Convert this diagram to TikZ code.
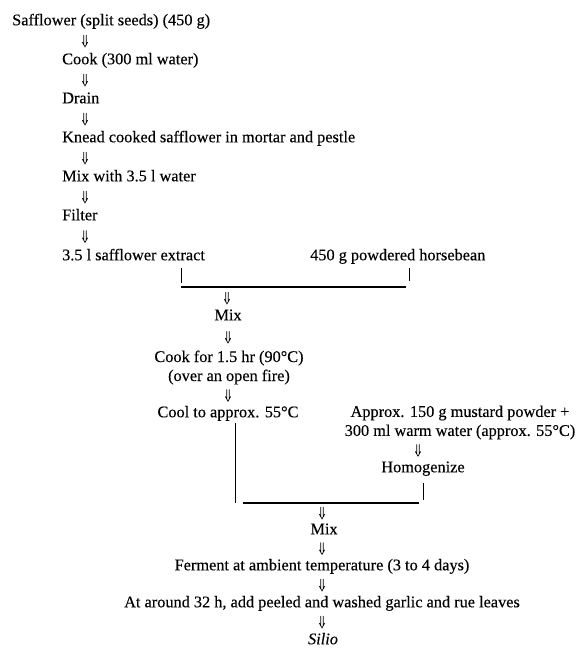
\documentclass[tikz,border=0pt]{standalone}
\usepackage{fontspec}
\setmainfont[FakeBold=0.25]{Liberation Serif}
\usetikzlibrary{calc}
\begin{document}
\begin{tikzpicture}[x=1pt,y=-1pt,
  lbl/.style={inner sep=0pt, font=\fontsize{16.3}{19}\selectfont, text height=11pt, text depth=3.5pt},
  lbltwo/.style={inner sep=0pt, font=\fontsize{16.3}{19}\selectfont, align=center},
  dar/.style={line width=0.7pt, line cap=round, line join=miter,
    to path={let \p1=($(\tikztostart)!.5!(\tikztotarget)$) in
      (\x1-1.2pt,\y1+5.8pt) -- (\x1-1.2pt,\y1-3.2pt)
      (\x1+1.2pt,\y1+5.8pt) -- (\x1+1.2pt,\y1-3.2pt)
      (\x1-2.6pt,\y1-1.3pt) -- (\x1,\y1-5.8pt) -- (\x1+2.6pt,\y1-1.3pt)}},
  thin rule/.style={line width=0.6pt},
  bar rule/.style={line width=1.2pt}]
\useasboundingbox (0,0) rectangle (580,656);
% left column
\node[lbl, anchor=mid west] (n1) at (12,23) {Safflower (split seeds) (450 g)};
\node[lbl, anchor=mid west] (n2) at (62,62) {Cook (300 ml water)};
\node[lbl, anchor=mid west] (n3) at (62,101) {Drain};
\node[lbl, anchor=mid west] (n4) at (62,140) {Knead cooked safflower in mortar and pestle};
\node[lbl, anchor=mid west] (n5) at (62,179) {Mix with 3.5 l water};
\node[lbl, anchor=mid west] (n6) at (62,218) {Filter};
\node[lbl, anchor=mid west] (n7) at (62,258) {3.5 l safflower extract};
\node[lbl, anchor=mid west] (n8) at (310,258) {450 g powdered horsebean};
\coordinate (ax) at (85,0);
\draw[dar] (n1.south -| ax) to (n2.north -| ax);
\draw[dar] (n2.south -| ax) to (n3.north -| ax);
\draw[dar] (n3.south -| ax) to (n4.north -| ax);
\draw[dar] (n4.south -| ax) to (n5.north -| ax);
\draw[dar] (n5.south -| ax) to (n6.north -| ax);
\draw[dar] (n6.south -| ax) to (n7.north -| ax);
% first join
\coordinate (t1a) at (181,268); \coordinate (t1b) at (181,283);
\coordinate (t2a) at (409,268); \coordinate (t2b) at (409,281);
\coordinate (b1l) at (181,287); \coordinate (b1r) at (406,287);
\coordinate (j1) at (227,287);
\draw[thin rule] (t1a) -- (t1b);
\draw[thin rule] (t2a) -- (t2b);
\draw[bar rule] (b1l) -- (b1r);
\node[lbl, anchor=mid] (n9) at (228,318) {Mix};
\draw[dar] (j1) to (n9.north -| j1);
\node[lbltwo] (n10) at (229,367.5) {Cook for 1.5 hr (90°C)\\(over an open fire)};
\draw[dar] (n9.south) to (n10.north -| n9.south);
\node[lbl, anchor=mid] (n11) at (228,415) {Cool to approx. 55°C};
\draw[dar] (n10.south -| n9.south) to (n11.north -| n9.south);
% right branch
\node[lbltwo] (n12) at (460,422.5) {Approx. 150 g mustard powder +\\300 ml warm water (approx. 55°C)};
\node[lbl, anchor=mid] (n13) at (423,470) {Homogenize};
\coordinate (ax2) at (418,0);
\draw[dar] (n12.south -| ax2) to (n13.north -| ax2);
% second join
\coordinate (v1a) at (235,423); \coordinate (v1b) at (235,503);
\coordinate (t3a) at (423,483); \coordinate (t3b) at (423,500);
\coordinate (b2l) at (243,503); \coordinate (b2r) at (419,503);
\coordinate (j2) at (322,503);
\draw[thin rule] (v1a) -- (v1b);
\draw[thin rule] (t3a) -- (t3b);
\draw[bar rule] (b2l) -- (b2r);
\node[lbl, anchor=mid] (n14) at (324,532) {Mix};
\draw[dar] (j2) to (n14.north -| j2);
\node[lbl, anchor=mid] (n15) at (322,568) {Ferment at ambient temperature (3 to 4 days)};
\draw[dar] (n14.south -| j2) to (n15.north -| j2);
\node[lbl, anchor=mid] (n16) at (322,605) {At around 32 h, add peeled and washed garlic and rue leaves};
\draw[dar] (n15.south -| j2) to (n16.north -| j2);
\node[lbl, anchor=mid, font=\fontsize{16.3}{19}\selectfont\itshape] (n17) at (323,642) {Silio};
\draw[dar] (n16.south -| j2) to (n17.north -| j2);
\end{tikzpicture}
\end{document}
